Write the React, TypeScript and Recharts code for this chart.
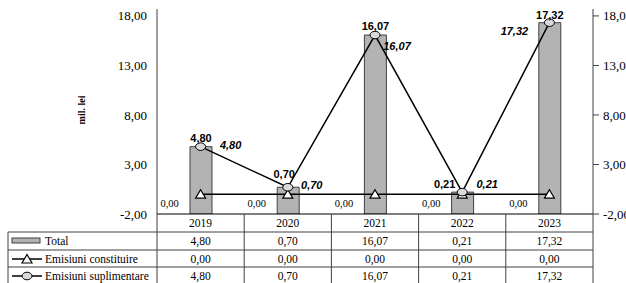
import React from 'react'
import { ComposedChart, Bar, Line, XAxis, YAxis, LabelList } from 'recharts'

const YEARS = ['2019', '2020', '2021', '2022', '2023']
const TOTAL = [4.8, 0.7, 16.07, 0.21, 17.32]
const CONSTITUIRE = [0, 0, 0, 0, 0]
const SUPLIMENTARE = [4.8, 0.7, 16.07, 0.21, 17.32]
const Y_TICKS = [-2, 3, 8, 13, 18]
const Y_MIN = -2
const Y_MAX = 18.7

const W = 626
const H = 283
const LEFT = 157
const RIGHT_W = 33
const PLOT_RIGHT = W - RIGHT_W
const BAND = (PLOT_RIGHT - LEFT) / YEARS.length
const AXIS_Y = 214
const ROWS = [214, 232, 250, 267, 284]

const SERIF = '"Liberation Serif", "Times New Roman", serif'
const SANS = '"Liberation Sans", Arial, sans-serif'
const BAR_FILL = '#b3b3b3'
const CIRCLE_FILL = '#d9d9d9'
const DARK = '#404040'

const fmt = (v: number) => v.toFixed(2).replace('.', ',')

const data = YEARS.map((year, i) => ({
  year,
  total: TOTAL[i],
  constituire: CONSTITUIRE[i],
  suplimentare: SUPLIMENTARE[i],
}))

// manual label placements as in the original Excel chart
const TOTAL_DX = [0, -4, 0, -18, 0]
const TOTAL_DY = [-9, -13, -9, -8, -8]
const SUP_DX = [30, 24, 22, 25, -35]
const SUP_DY = [-2, -2, 11, -8, 8]

const rowCenter = (r: number) => (ROWS[r] + ROWS[r + 1]) / 2
const serifStyle = (size: number) => ({ fontFamily: SERIF, fontSize: size })

function XTick(props: any) {
  const { x, index } = props
  const i = index
  const cells = [YEARS[i], fmt(TOTAL[i]), fmt(CONSTITUIRE[i]), fmt(SUPLIMENTARE[i])]
  return (
    <g>
      {cells.map((c, r) => (
        <text key={r} x={x} y={rowCenter(r)} dy="0.35em" textAnchor="middle"
          style={serifStyle(11.5)} fill="#000">{c}</text>
      ))}
      {i < YEARS.length - 1 && (
        <line x1={x + BAND / 2} x2={x + BAND / 2} y1={AXIS_Y} y2={H} stroke={DARK} strokeWidth={1} />
      )}
    </g>
  )
}

function YTick(props: any) {
  const { x, y, payload, side } = props
  return (
    <text x={x} y={y} dy="0.35em" textAnchor={side === 'left' ? 'end' : 'start'}
      style={serifStyle(13)} fill="#000">{fmt(payload.value)}</text>
  )
}

function TotalLabel(props: any) {
  const { x, y, width, index } = props
  return (
    <text x={x + width / 2 + TOTAL_DX[index]} y={y + TOTAL_DY[index]} dy="0.35em" textAnchor="middle"
      style={{ fontFamily: SANS, fontWeight: 'bold', fontSize: 11 }} fill="#000">{fmt(TOTAL[index])}</text>
  )
}

function SupLabel(props: any) {
  const { x, y, index } = props
  return (
    <text x={x + SUP_DX[index]} y={y + SUP_DY[index]} dy="0.35em" textAnchor="middle"
      style={{ fontFamily: SANS, fontWeight: 'bold', fontStyle: 'italic', fontSize: 11 }} fill="#000">
      {fmt(SUPLIMENTARE[index])}
    </text>
  )
}

function ConstLabel(props: any) {
  const { x, y, index } = props
  return (
    <text x={x - 31} y={y + 9} dy="0.35em" textAnchor="middle"
      style={serifStyle(10.5)} fill="#000">{fmt(CONSTITUIRE[index])}</text>
  )
}

function Triangle(props: any) {
  const { cx, cy } = props
  if (cx == null || cy == null) return null
  return (
    <polygon points={`${cx},${cy - 4.5} ${cx + 5},${cy + 4} ${cx - 5},${cy + 4}`}
      fill="#fff" stroke="#000" strokeWidth={1.2} />
  )
}

function Circle(props: any) {
  const { cx, cy } = props
  if (cx == null || cy == null) return null
  return <ellipse cx={cx} cy={cy} rx={5} ry={3.8} fill={CIRCLE_FILL} stroke="#000" strokeWidth={1} />
}

function TableFrame() {
  return (
    <svg width={W} height={H} style={{ position: 'absolute', left: 0, top: 0, pointerEvents: 'none' }}>
      {ROWS.slice(1, 4).map((y) => (
        <line key={y} x1={8} x2={PLOT_RIGHT} y1={y} y2={y} stroke={DARK} strokeWidth={1} />
      ))}
      <line x1={8} x2={8} y1={ROWS[1]} y2={H} stroke={DARK} strokeWidth={1} />
      <line x1={LEFT} x2={LEFT} y1={AXIS_Y} y2={H} stroke={DARK} strokeWidth={1} />
      <line x1={PLOT_RIGHT} x2={PLOT_RIGHT} y1={AXIS_Y} y2={H} stroke={DARK} strokeWidth={1} />

      <rect x={12} y={238} width={28} height={5} fill={BAR_FILL} stroke={DARK} strokeWidth={1} />
      <text x={45} y={rowCenter(1)} dy="0.35em" style={serifStyle(11.5)}>Total</text>

      <line x1={12} x2={42} y1={259} y2={259} stroke="#000" strokeWidth={1.5} />
      <Triangle cx={27} cy={259} />
      <text x={45} y={rowCenter(2)} dy="0.35em" style={serifStyle(11.5)}>Emisiuni constituire</text>

      <line x1={12} x2={42} y1={276} y2={276} stroke="#000" strokeWidth={1.5} />
      <Circle cx={27} cy={276} />
      <text x={45} y={rowCenter(3)} dy="0.35em" style={serifStyle(11.5)}>Emisiuni suplimentare</text>

      <text x={0} y={0} transform="translate(85,110) rotate(-90)" textAnchor="middle"
        style={{ fontFamily: SERIF, fontWeight: 'bold', fontSize: 10 }}>mil. lei</text>
    </svg>
  )
}

export default function App() {
  return (
    <div style={{ position: 'absolute', left: 0, top: 0, width: W, height: H, background: '#fff' }}>
      <ComposedChart width={W} height={H} data={data} margin={{ top: 9, right: 0, bottom: 0, left: 0 }}>
        <XAxis dataKey="year" height={H - AXIS_Y} axisLine={{ stroke: '#000' }} tickLine={false}
          tick={(p: any) => <XTick {...p} />} interval={0} />
        <YAxis yAxisId="left" width={LEFT} domain={[Y_MIN, Y_MAX]} ticks={Y_TICKS} allowDataOverflow
          axisLine={{ stroke: DARK }} tickLine={false} tickSize={0} tickMargin={10}
          tick={(p: any) => <YTick {...p} side="left" />} />
        <YAxis yAxisId="right" orientation="right" width={RIGHT_W} domain={[Y_MIN, Y_MAX]} ticks={Y_TICKS}
          allowDataOverflow axisLine={{ stroke: DARK }} tickLine={{ stroke: DARK }}
          tickSize={6} tickMargin={4} tick={(p: any) => <YTick {...p} side="right" />} />
        <Bar yAxisId="left" dataKey={(d: any) => [Y_MIN, d.total]} barSize={22} fill={BAR_FILL}
          stroke={DARK} strokeWidth={1} isAnimationActive={false}>
          <LabelList content={(p: any) => <TotalLabel {...p} />} />
        </Bar>
        <Line yAxisId="left" type="linear" dataKey="constituire" stroke="#000" strokeWidth={1.5}
          dot={(p: any) => <Triangle key={p.index} {...p} />} activeDot={false} isAnimationActive={false}>
          <LabelList content={(p: any) => <ConstLabel {...p} />} />
        </Line>
        <Line yAxisId="left" type="linear" dataKey="suplimentare" stroke="#000" strokeWidth={1.5}
          dot={(p: any) => <Circle key={p.index} {...p} />} activeDot={false} isAnimationActive={false}>
          <LabelList content={(p: any) => <SupLabel {...p} />} />
        </Line>
      </ComposedChart>
      <TableFrame />
    </div>
  )
}
